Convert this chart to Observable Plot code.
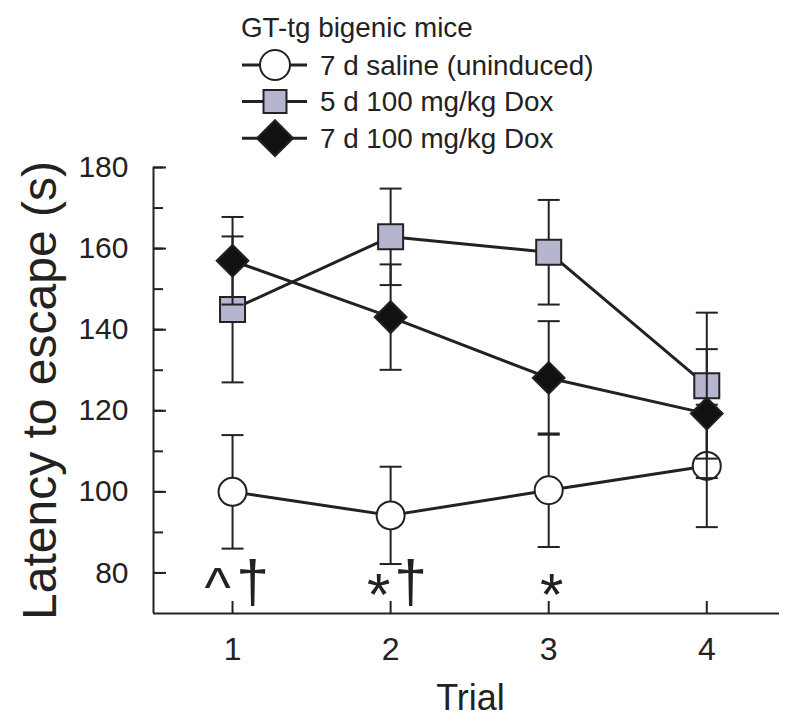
<!DOCTYPE html>
<html><head><meta charset="utf-8">
<script src="https://cdn.jsdelivr.net/npm/d3@7"></script>
<script src="https://cdn.jsdelivr.net/npm/@observablehq/plot@0.6"></script>
<style>
body{margin:0;background:#fff;}
#wrap{position:relative;width:800px;height:721px;font-family:"Liberation Sans",Arial,sans-serif;color:#222;}
#wrap svg{position:absolute;left:0;top:0;}
</style></head><body><div id="wrap"></div>
<script>
// ---- data ----
const trials = [1, 2, 3, 4];
const seriesNames = ["7 d saline (uninduced)", "5 d 100 mg/kg Dox", "7 d 100 mg/kg Dox"];
const salineMean = [100, 94.2, 100.4, 106.4];
const salineErr  = [14, 12, 14, 15.1];
const dox5Mean   = [145, 162.9, 159.1, 126.2];
const dox5Err    = [18, 11.9, 12.9, 18];
const dox7Mean   = [157, 143.1, 128.1, 119.3];
const dox7Err    = [10.8, 13, 14, 15.9];
const yTicks      = [80, 100, 120, 140, 160, 180];
const yMinorTicks = [80, 90, 100, 110, 120, 130, 140, 150, 160, 170, 180];
const xTicks      = [1, 2, 3, 4];
const xDomain = [0.5, 4.46];
const yDomain = [70, 180];
const legendTitle = "GT-tg bigenic mice";
const xLabel = "Trial";
const yLabel = "Latency to escape (s)";
const caretTrials = [1];
const caretLabels = ["^"];
const starTrialsA = [2];
const starTrialsB = [3];
const starLabel = "*";
const daggerTrials = [1, 2];
const daggerLabel = "†";

// ---- styles ----
const ink = "#222";
const font = '"Liberation Sans", Arial, sans-serif';
const styles = [
  {symbol: "circle",   fill: "#ffffff", r: 14, d3sym: d3.symbolCircle,   lsize: Math.PI * 15 * 15},
  {symbol: "square",   fill: "#b5b5cf", r: 14.1, d3sym: d3.symbolSquare, lsize: 23 * 23},
  {symbol: "diamond2", fill: "#111111", r: 14.3, d3sym: d3.symbolDiamond2, lsize: Math.pow(18 / 0.62625, 2)}
];
const means = [salineMean, dox5Mean, dox7Mean];
const errs = [salineErr, dox5Err, dox7Err];

const series = seriesNames.map((name, s) => ({
  name, style: styles[s],
  rows: trials.map((t, i) => ({trial: t, mean: means[s][i], lo: means[s][i] - errs[s][i], hi: means[s][i] + errs[s][i]}))
}));

const cap = {draw(ctx) { ctx.moveTo(-11, 0); ctx.lineTo(11, 0); }};

const seriesMarks = series.flatMap(s => [
  Plot.ruleX(s.rows, {x: "trial", y1: "lo", y2: "hi", stroke: ink, strokeWidth: 2}),
  Plot.dot(s.rows, {x: "trial", y: "hi", symbol: cap, r: 5, stroke: ink, strokeWidth: 2, fill: "none"}),
  Plot.dot(s.rows, {x: "trial", y: "lo", symbol: cap, r: 5, stroke: ink, strokeWidth: 2, fill: "none"}),
  Plot.line(s.rows, {x: "trial", y: "mean", stroke: ink, strokeWidth: 3}),
  Plot.dot(s.rows, {x: "trial", y: "mean", symbol: s.style.symbol, r: s.style.r, fill: s.style.fill, stroke: ink, strokeWidth: 2})
]);

const annot = (data, text, dx, dy, fontSize) =>
  Plot.text(data, {x: d => d, text, frameAnchor: "bottom", lineAnchor: "bottom", textAnchor: "middle", dx, dy, fontSize, fill: ink});

const chart = Plot.plot({
  width: 800, height: 721,
  marginTop: 167, marginBottom: 108, marginLeft: 153, marginRight: 21,
  x: {domain: xDomain},
  y: {domain: yDomain},
  style: {fontFamily: font, color: ink, background: "transparent", overflow: "visible"},
  marks: [
    Plot.ruleX([xDomain[0]], {stroke: ink, strokeWidth: 2}),
    Plot.ruleY([yDomain[0]], {stroke: ink, strokeWidth: 2}),
    Plot.axisY({ticks: yMinorTicks, tickSize: -10, fill: "none", strokeWidth: 2, label: null}),
    Plot.axisY({ticks: yTicks, tickSize: -13, fill: "none", strokeWidth: 2, label: null}),
    Plot.axisY({ticks: yTicks, tickSize: 0, tickPadding: 25, fontSize: 30, label: null}),
    Plot.axisX({ticks: xTicks, tickSize: -12, fill: "none", strokeWidth: 2, label: null}),
    Plot.axisX({ticks: xTicks, tickSize: 0, tickPadding: 24, fontSize: 32, tickFormat: d => String(d), label: null}),
    Plot.text([yLabel], {text: d => d, frameAnchor: "left", textAnchor: "middle", lineAnchor: "middle", rotate: -90, dx: -113, fontSize: 48, fill: ink}),
    Plot.text([xLabel], {text: d => d, frameAnchor: "bottom", textAnchor: "middle", lineAnchor: "middle", dy: 85, dx: 4, fontSize: 36, fill: ink}),
    ...seriesMarks,
    annot(caretTrials, (d, i) => caretLabels[i], -15, -8, 56),
    annot(starTrialsA, () => starLabel, -12, 1, 60),
    annot(starTrialsB, () => starLabel, 3, 1, 60),
    annot(daggerTrials, () => daggerLabel, 20, -12, 59)
  ]
});

const wrap = document.getElementById("wrap");
wrap.appendChild(chart);

// ---- legend ----
const leg = d3.create("svg").attr("width", 800).attr("height", 160)
  .style("font-family", font).style("overflow", "visible");
leg.append("text").attr("x", 241).attr("y", 27).attr("dy", "0.35em")
  .attr("font-size", 27.8).attr("fill", ink).text(legendTitle);
series.forEach((s, i) => {
  const cy = 65 + i * 36.6;
  const g = leg.append("g");
  g.append("line").attr("x1", 242).attr("x2", 307).attr("y1", cy).attr("y2", cy)
    .attr("stroke", ink).attr("stroke-width", 3);
  g.append("path").attr("transform", `translate(275,${cy})`)
    .attr("d", d3.symbol(s.style.d3sym, s.style.lsize)())
    .attr("fill", s.style.fill).attr("stroke", ink).attr("stroke-width", 2);
  g.append("text").attr("x", 320).attr("y", cy).attr("dy", "0.35em")
    .attr("font-size", 27.8).attr("fill", ink).text(s.name);
});
wrap.appendChild(leg.node());
</script>
</body></html>
